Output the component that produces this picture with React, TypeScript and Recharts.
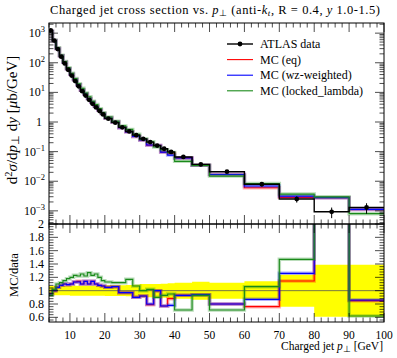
import React from 'react';
import { ComposedChart, Line, Scatter, ErrorBar, XAxis, YAxis, Area, ReferenceLine } from 'recharts';

// bin edges in GeV
const binEdges = [4, 5, 6, 7, 8, 9, 10, 11, 12, 13, 14, 15, 16, 17, 18, 19, 20, 22, 24, 26, 28, 30, 32, 34, 36, 38, 40, 45, 50, 60, 70, 80, 90, 100];
// ATLAS data, d2sigma/dpT dy [ub/GeV]
const atlasData = [1230, 560, 290, 160, 95, 58, 37, 24, 16, 11, 7.8, 5.6, 4.1, 3.1, 2.35, 1.8, 1.3, 0.95, 0.66, 0.48, 0.36, 0.27, 0.21, 0.16, 0.125, 0.098, 0.066, 0.037, 0.021, 0.0079, 0.0025, 0.00093, 0.0013];
// relative uncertainty of the data (yellow band)
const relErr = [0.07, 0.07, 0.07, 0.07, 0.07, 0.07, 0.075, 0.075, 0.075, 0.075, 0.075, 0.075, 0.075, 0.075, 0.075, 0.075, 0.08, 0.08, 0.08, 0.085, 0.09, 0.1, 0.1, 0.1, 0.105, 0.11, 0.12, 0.135, 0.12, 0.14, 0.24, 0.39, 0.39];
// MC / data
const ratioEq = [0.95, 1.0, 1.05, 1.08, 1.1, 1.09, 1.1, 1.13, 1.14, 1.1, 1.14, 1.1, 1.14, 1.1, 1.08, 1.07, 1.05, 1.06, 0.97, 0.97, 0.9, 0.92, 0.79, 1.0, 0.77, 0.88, 0.93, 0.94, 0.8, 0.76, 1.145, 3.0, 0.85];
const ratioWz = [0.95, 1.0, 1.05, 1.08, 1.1, 1.09, 1.1, 1.13, 1.13, 1.1, 1.14, 1.1, 1.14, 1.1, 1.08, 1.07, 1.05, 1.06, 0.97, 0.97, 0.9, 0.92, 0.8, 1.0, 0.77, 0.78, 0.93, 0.94, 0.8, 0.87, 1.26, 3.0, 0.86];
const ratioLl = [0.93, 1.02, 1.1, 1.12, 1.15, 1.18, 1.2, 1.23, 1.22, 1.25, 1.22, 1.27, 1.23, 1.25, 1.2, 1.15, 1.13, 1.12, 1.12, 1.17, 1.07, 1.0, 1.02, 0.9, 0.93, 0.95, 0.71, 0.93, 0.71, 1.06, 1.47, 3.2, 0.62];

const xMajor = [10, 20, 30, 40, 50, 60, 70, 80, 90, 100];
const yMajor = [1e-3, 1e-2, 1e-1, 1, 10, 100, 1000];
const yMajorLabels = ['−3', '−2', '−1', '0', '1', '2', '3'];
const rMajor = [0.6, 0.8, 1, 1.2, 1.4, 1.6, 1.8, 2];
const rMajorLabels = ['0.6', '0.8', '1', '1.2', '1.4', '1.6', '1.8', '2'];

const RED = '#ff0000';
const BLUE = '#0000ff';
const GREEN = '#1a8a1a';
const FONT = "'Liberation Serif', serif";

const W = 397;
const PL = 49;
const PR = 384;
const TOP_T = 23;
const TOP_B = 224;
const BOT_OFF = 218; // top of ratio chart
const BOT_T = 6;
const BOT_B = 104;

const Y_MIN = 3.6e-4;
const Y_MAX = 2200;

// tick positions
const xTicks: number[] = [];
for (let v = 4; v <= 100; v += 2) xTicks.push(v);
const yTicks: number[] = [];
for (let e = -4; e <= 3; e++) {
  for (let k = 1; k <= 9; k++) {
    const v = k * Math.pow(10, e);
    if (v >= Y_MIN && v <= Y_MAX) yTicks.push(v);
  }
}
const rTicks: number[] = [];
for (let i = 14; i <= 50; i++) rTicks.push(Math.round(i * 4) / 100);

// step tables
const topRows = binEdges.map((x, i) => {
  const j = Math.min(i, atlasData.length - 1);
  return {
    x,
    data: atlasData[j],
    eq: atlasData[j] * ratioEq[j],
    wz: atlasData[j] * ratioWz[j],
    ll: atlasData[j] * ratioLl[j],
  };
});
const points = atlasData.map((y, i) => ({
  x: (binEdges[i] + binEdges[i + 1]) / 2,
  y,
  err: [y * relErr[i], y * relErr[i]],
}));
const ratioRows = binEdges.map((x, i) => {
  const j = Math.min(i, atlasData.length - 1);
  return {
    x,
    band: [1 - relErr[j], 1 + relErr[j]],
    eq: ratioEq[j],
    wz: ratioWz[j],
    ll: ratioLl[j],
  };
});

const isMajorX = (v: number) => xMajor.includes(v);

const TopXTick = (p: any) => {
  const L = isMajorX(p.payload.value) ? 9 : 4.5;
  return (
    <g stroke="#000" strokeWidth={0.7}>
      <line x1={p.x} x2={p.x} y1={TOP_B} y2={TOP_B - L} />
      <line x1={p.x} x2={p.x} y1={TOP_T} y2={TOP_T + L} />
    </g>
  );
};

const BotXTick = (p: any) => {
  const v = p.payload.value;
  const major = isMajorX(v);
  const L = major ? 9 : 4.5;
  return (
    <g>
      <line x1={p.x} x2={p.x} y1={BOT_B} y2={BOT_B - L} stroke="#000" strokeWidth={0.7} />
      <line x1={p.x} x2={p.x} y1={BOT_T} y2={BOT_T + L} stroke="#000" strokeWidth={0.7} />
      {major && (
        <text x={p.x} y={BOT_B + 17} textAnchor="middle" fontSize={11.5} fontFamily={FONT} fill="#000">
          {v}
        </text>
      )}
    </g>
  );
};

const TopYTick = (p: any) => {
  const v = p.payload.value;
  const idx = yMajor.findIndex((m) => Math.abs(m - v) / m < 1e-6);
  const L = idx >= 0 ? 9 : 4.5;
  return (
    <g>
      <line x1={PL} x2={PL + L} y1={p.y} y2={p.y} stroke="#000" strokeWidth={0.7} />
      <line x1={PR} x2={PR - L} y1={p.y} y2={p.y} stroke="#000" strokeWidth={0.7} />
      {idx >= 0 &&
        (yMajorLabels[idx] === '0' ? (
          <text x={42} y={p.y + 4} textAnchor="end" fontSize={12} fontFamily={FONT} fill="#000">
            1
          </text>
        ) : (
          <text x={45} y={p.y + 4} textAnchor="end" fontSize={12} fontFamily={FONT} fill="#000">
            10
            <tspan dy={-5} fontSize={8.5}>
              {yMajorLabels[idx]}
            </tspan>
          </text>
        ))}
    </g>
  );
};

const BotYTick = (p: any) => {
  const v = p.payload.value;
  const idx = rMajor.findIndex((m) => Math.abs(m - v) < 1e-6);
  const L = idx >= 0 ? 9 : 4.5;
  return (
    <g>
      <line x1={PL} x2={PL + L} y1={p.y} y2={p.y} stroke="#000" strokeWidth={0.7} />
      <line x1={PR} x2={PR - L} y1={p.y} y2={p.y} stroke="#000" strokeWidth={0.7} />
      {idx >= 0 && (
        <text x={44} y={p.y + 4} textAnchor="end" fontSize={12} fontFamily={FONT} fill="#000">
          {rMajorLabels[idx]}
        </text>
      )}
    </g>
  );
};

const Dot = (p: any) => <circle cx={p.cx} cy={p.cy} r={2.4} fill="#000" />;

const mcLines = (keyPrefix: string) =>
  [
    { key: 'eq', color: RED },
    { key: 'wz', color: BLUE },
    { key: 'll', color: GREEN },
  ].flatMap((s) => [
    <Line
      key={keyPrefix + s.key + 'h'}
      type="stepAfter"
      dataKey={s.key}
      stroke={s.color}
      strokeOpacity={0.3}
      strokeWidth={3.5}
      dot={false}
      isAnimationActive={false}
    />,
    <Line
      key={keyPrefix + s.key}
      type="stepAfter"
      dataKey={s.key}
      stroke={s.color}
      strokeWidth={1.1}
      dot={false}
      isAnimationActive={false}
    />,
  ]);

const legend = [
  { label: 'ATLAS data', color: '#000' },
  { label: 'MC (eq)', color: RED },
  { label: 'MC (wz-weighted)', color: BLUE },
  { label: 'MC (locked_lambda)', color: GREEN },
];

export default function App() {
  return (
    <div style={{ position: 'absolute', left: 0, top: 0, width: W, height: 358, background: '#fff' }}>
      <div style={{ position: 'absolute', left: 0, top: 0 }}>
        <ComposedChart width={W} height={230} data={topRows} margin={{ top: TOP_T, right: W - PR, bottom: 0, left: 0 }}>
          <XAxis
            dataKey="x"
            type="number"
            domain={[4, 100]}
            allowDataOverflow
            ticks={xTicks}
            interval={0}
            height={6}
            tick={TopXTick}
            tickLine={false}
            axisLine={false}
          />
          <YAxis
            type="number"
            scale="log"
            domain={[Y_MIN, Y_MAX]}
            allowDataOverflow
            ticks={yTicks}
            interval={0}
            width={PL}
            tick={TopYTick}
            tickLine={false}
            axisLine={false}
          />
          {mcLines('t')}
          <Line type="stepAfter" dataKey="data" stroke="#000" strokeWidth={1.4} dot={false} isAnimationActive={false} />
          <Scatter data={points} dataKey="y" shape={Dot} isAnimationActive={false}>
            <ErrorBar dataKey="err" direction="y" width={0} stroke="#000" strokeWidth={1} />
          </Scatter>
        </ComposedChart>
      </div>
      <div style={{ position: 'absolute', left: 0, top: BOT_OFF }}>
        <ComposedChart width={W} height={140} data={ratioRows} margin={{ top: BOT_T, right: W - PR, bottom: 0, left: 0 }}>
          <XAxis
            dataKey="x"
            type="number"
            domain={[4, 100]}
            allowDataOverflow
            ticks={xTicks}
            interval={0}
            height={140 - BOT_B}
            tick={BotXTick}
            tickLine={false}
            axisLine={false}
          />
          <YAxis
            type="number"
            domain={[0.53, 2]}
            allowDataOverflow
            ticks={rTicks}
            interval={0}
            width={PL}
            tick={BotYTick}
            tickLine={false}
            axisLine={false}
          />
          <Area type="stepAfter" dataKey="band" fill="#ffff00" fillOpacity={1} stroke="none" isAnimationActive={false} />
          <ReferenceLine y={1} stroke="#555" strokeWidth={0.8} />
          {mcLines('b')}
        </ComposedChart>
      </div>
      <svg width={W} height={358} style={{ position: 'absolute', left: 0, top: 0, pointerEvents: 'none' }} fontFamily={FONT}>
        <rect x={PL} y={TOP_T} width={PR - PL} height={TOP_B - TOP_T} fill="none" stroke="#000" strokeWidth={1} />
        <rect x={PL} y={TOP_B} width={PR - PL} height={BOT_OFF + BOT_B - TOP_B} fill="none" stroke="#000" strokeWidth={1} />
        <text x={50} y={14} fontSize={12.5} textLength={330} lengthAdjust="spacing">
          Charged jet cross section vs. <tspan fontStyle="italic">p</tspan>
          <tspan dy={2} fontSize={9}>⊥</tspan>
          <tspan dy={-2}> (anti-</tspan>
          <tspan fontStyle="italic">k</tspan>
          <tspan dy={2} fontSize={9} fontStyle="italic">t</tspan>
          <tspan dy={-2}>, R = 0.4, </tspan>
          <tspan fontStyle="italic">y</tspan> 1.0-1.5)
        </text>
        <text transform="translate(17,120) rotate(-90)" textAnchor="middle" fontSize={15}>
          d<tspan dy={-5} fontSize={10.5}>2</tspan>
          <tspan dy={5} fontStyle="italic">σ</tspan>/d<tspan fontStyle="italic">p</tspan>
          <tspan dy={2} fontSize={10.5}>⊥</tspan>
          <tspan dy={-2}> d</tspan>
          <tspan fontStyle="italic">y</tspan> [<tspan fontStyle="italic">μ</tspan>b/GeV]
        </text>
        <text transform="translate(18,275) rotate(-90)" textAnchor="middle" fontSize={12.5}>
          MC/data
        </text>
        <text x={383} y={350} textAnchor="end" fontSize={11.5}>
          Charged jet <tspan fontStyle="italic">p</tspan>
          <tspan dy={2} fontSize={8.5}>⊥</tspan>
          <tspan dy={-2}> [GeV]</tspan>
        </text>
        {legend.map((l, i) => {
          const y = 44 + i * 15.6;
          return (
            <g key={l.label}>
              <line x1={227} x2={253} y1={y} y2={y} stroke={l.color} strokeWidth={i === 0 ? 1.4 : 1.1} />
              {i === 0 && <circle cx={240} cy={y} r={2.4} fill="#000" />}
              <text x={260} y={y + 4} fontSize={12}>
                {l.label}
              </text>
            </g>
          );
        })}
      </svg>
    </div>
  );
}
